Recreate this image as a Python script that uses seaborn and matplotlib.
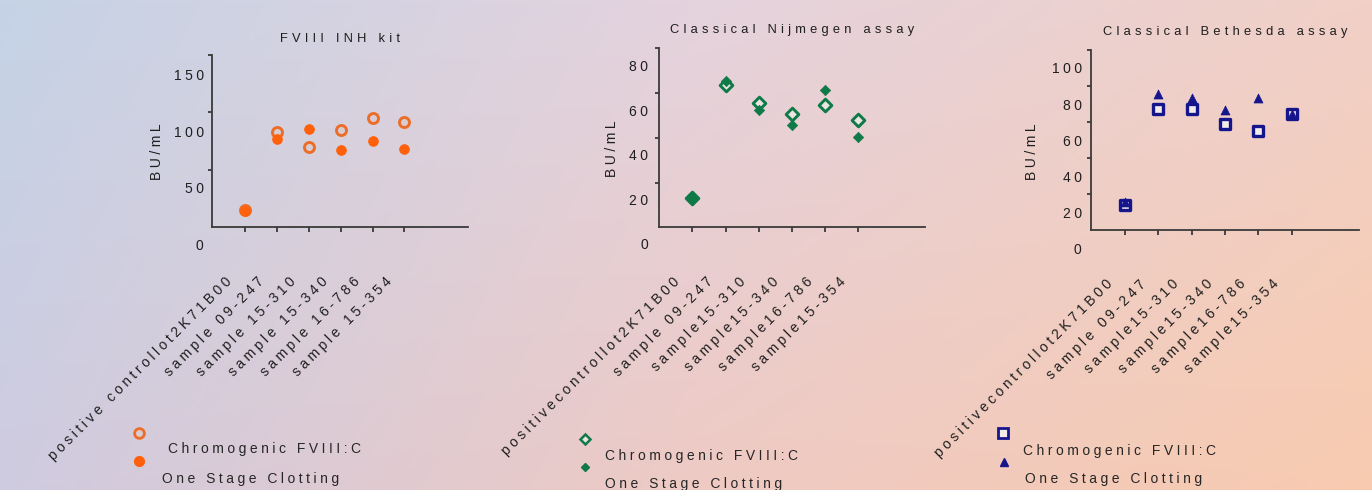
import numpy as np
import pandas as pd
import matplotlib
matplotlib.use("Agg")
import matplotlib.pyplot as plt
import seaborn as sns
from matplotlib.transforms import ScaledTranslation
from matplotlib.lines import Line2D

# ---------------- data ----------------
labels_fviii = ["positive controllot2K71B00", "sample 09-247", "sample 15-310",
                "sample 15-340", "sample 16-786", "sample 15-354"]
labels_classic = ["positivecontrollot2K71B00", "sample 09-247", "sample15-310",
                  "sample15-340", "sample16-786", "sample15-354"]

fviii_chromogenic = [30, 99, 86, 101, 112, 108]
fviii_one_stage = [29, 93, 102, 83, 91, 84]
nijmegen_chromogenic = [20.5, 71.5, 63.5, 58.5, 62.5, 55.5]
nijmegen_one_stage = [20.5, 73, 60, 53.5, 69, 48]
bethesda_chromogenic = [24, 77.5, 77.5, 69, 65, 74.5]
bethesda_one_stage = [26, 85.5, 83.5, 76.5, 83.5, 74.5]

yticks_fviii = [0, 50, 100, 150]
yticks_nijmegen = [0, 20, 40, 60, 80]
yticks_bethesda = [0, 20, 40, 60, 80, 100]

titles = ["FVIII INH kit", "Classical Nijmegen assay", "Classical Bethesda assay"]
ylabel = "BU/mL"
legend_labels = ["Chromogenic FVIII:C", "One Stage Clotting"]

# ---------------- style ----------------
sns.set_theme(style="white")
plt.rcParams["font.family"] = ["Liberation Sans", "DejaVu Sans"]
TXT = "#1e1e1e"
AX = "#3a3a3a"

G1 = "\u2005"
G2 = "\u2004"


def sp(s, g=G1):
    return g.join(s)


W, H = 1372, 490
fig = plt.figure(figsize=(W / 100, H / 100), dpi=100)

# background gradient
TL, TC, TR = (197, 211, 230), (228, 211, 222), (241, 208, 199)
BL, BC, BR = (207, 203, 224), (238, 202, 196), (248, 203, 176)
xs = np.linspace(0, 1, 400)
top = np.stack([np.interp(xs, [0, .5, 1], [TL[i], TC[i], TR[i]]) for i in range(3)], -1)
bot = np.stack([np.interp(xs, [0, .5, 1], [BL[i], BC[i], BR[i]]) for i in range(3)], -1)
ys = np.linspace(0, 1, 150)[:, None, None]
grad = (top[None] * (1 - ys) + bot[None] * ys) / 255.0
bg = fig.add_axes([0, 0, 1, 1], zorder=-10)
bg.imshow(grad, aspect="auto", extent=[0, 1, 0, 1], origin="upper")
bg.axis("off")


def make_panel(spec, xlabels, yticks, series, title):
    left, right, top_px, spine_px, lab0, ppu, tstep, x0, xstep, ypad, tpad, ylab_x = spec
    bottom_px = lab0 + 5

    def v(y):
        return (lab0 - y) / ppu
    ax = fig.add_axes([left / W, 1 - bottom_px / H, (right - left) / W, (bottom_px - top_px) / H])
    ax.set_facecolor("none")
    ax.set_xlim((left - x0) / xstep, (right - x0) / xstep)
    ax.set_ylim(v(bottom_px), v(top_px))

    for (vals, kw) in series:
        df = pd.DataFrame({"x": np.arange(len(vals)), "y": vals})
        sns.scatterplot(data=df, x="x", y="y", ax=ax, legend=False, zorder=3, clip_on=False, **kw)

    for s in ["top", "right"]:
        ax.spines[s].set_visible(False)
    for s in ["left", "bottom"]:
        ax.spines[s].set_color(AX)
        ax.spines[s].set_linewidth(1.3)
    ax.spines["bottom"].set_position(("data", v(spine_px)))
    ax.spines["left"].set_bounds(v(spine_px), v(top_px))

    ax.set_yticks(yticks)
    ax.set_yticklabels([sp(str(t)) for t in yticks])
    ax.tick_params(axis="y", which="major", length=0, pad=ypad * 0.72, labelsize=10, labelcolor=TXT)
    minor = [v(spine_px - k * tstep) for k in range(1, 10) if spine_px - k * tstep >= top_px - 1]
    ax.set_yticks(minor, minor=True)
    ax.tick_params(axis="y", which="minor", left=True, length=3, width=1.3, color=AX, direction="out")

    ax.set_xticks(np.arange(len(xlabels)))
    ax.set_xticklabels([sp(l, G1) for l in xlabels], rotation=45, ha="right", va="center",
                       rotation_mode="anchor")
    ax.tick_params(axis="x", bottom=True, length=3.6, width=1.3, color=AX, direction="out",
                   pad=0, labelsize=10, labelcolor=TXT)
    off = ScaledTranslation(-15 / 100, -(52 - 5) / 100, fig.dpi_scale_trans)
    for lab in ax.get_xticklabels():
        lab.set_transform(lab.get_transform() + off)

    ax.set_xlabel("")
    ax.set_ylabel(sp(ylabel), fontsize=10, color=TXT)
    ax.yaxis.set_label_coords((ylab_x + 6 - left) / (right - left), 0.5)
    ax.set_title(sp(title, G2), fontsize=9.3, color=TXT, pad=tpad * 0.72)
    return ax


ORANGE = "#ff600c"
ORANGE_E = "#ec6d28"
GREEN = "#0f7a48"
NAVY = "#16168c"

spec1 = (211.7, 468, 55, 227.3, 244, 1.1267, 57.4, 245, 31.9, 8, 12.5, 158)
spec2 = (659, 925, 48.3, 227.3, 243.5, 2.22, 44.75, 692.3, 33.2, 11, 15, 613)
spec3 = (1090.7, 1359, 50, 230, 248.5, 1.806, 36, 1125, 33.35, 9, 15.5, 1033)

make_panel(spec1, labels_fviii, yticks_fviii, [
    (fviii_chromogenic, dict(marker="o", s=52, color="#d6ccd2", edgecolor=ORANGE_E, linewidth=2.1)),
    (fviii_one_stage, dict(marker="o", s=50, color=ORANGE, edgecolor=ORANGE, linewidth=0.5)),
], titles[0])

make_panel(spec2, labels_classic, yticks_nijmegen, [
    (nijmegen_chromogenic, dict(marker="D", s=42, color="#ece4e2", edgecolor=GREEN, linewidth=2.1)),
    (nijmegen_one_stage, dict(marker="D", s=28, color=GREEN, edgecolor=GREEN, linewidth=0.5)),
], titles[1])

make_panel(spec3, labels_classic, yticks_bethesda, [
    (bethesda_chromogenic, dict(marker="s", s=52, color="#f4ece8", edgecolor=NAVY, linewidth=2.4)),
    (bethesda_one_stage, dict(marker="^", s=42, color=NAVY, edgecolor=NAVY, linewidth=0.5)),
], titles[2])


# ---------------- legends ----------------
def fig_marker(x, y, **kw):
    fig.add_artist(Line2D([x / W], [1 - y / H], transform=fig.transFigure, linestyle="none", **kw))


def fig_label(x, y, s):
    fig.text(x / W, 1 - y / H, sp(s), ha="left", va="center", fontsize=10, color="#262626")


leg = [
    ((139, 432.7), (168, 449.3), (139, 460.7), (161.7, 478.7),
     dict(marker="o", markersize=7, markerfacecolor="#d6ccd2", markeredgecolor=ORANGE_E, markeredgewidth=2.0),
     dict(marker="o", markersize=7, markerfacecolor=ORANGE, markeredgecolor=ORANGE)),
    ((585, 439), (605, 456), (585, 467), (605, 483.5),
     dict(marker="D", markersize=5.5, markerfacecolor="#ece4e2", markeredgecolor=GREEN, markeredgewidth=1.8),
     dict(marker="D", markersize=4.5, markerfacecolor=GREEN, markeredgecolor=GREEN)),
    ((1002.7, 432.7), (1023.3, 451), (1004, 462), (1025, 479.3),
     dict(marker="s", markersize=7, markerfacecolor="#f4ece8", markeredgecolor=NAVY, markeredgewidth=2.0),
     dict(marker="^", markersize=6, markerfacecolor=NAVY, markeredgecolor=NAVY)),
]
for m1, t1, m2, t2, k1, k2 in leg:
    fig_marker(*m1, **k1)
    fig_label(*t1, legend_labels[0])
    fig_marker(*m2, **k2)
    fig_label(*t2, legend_labels[1])

fig.savefig("out.png", dpi=100)
